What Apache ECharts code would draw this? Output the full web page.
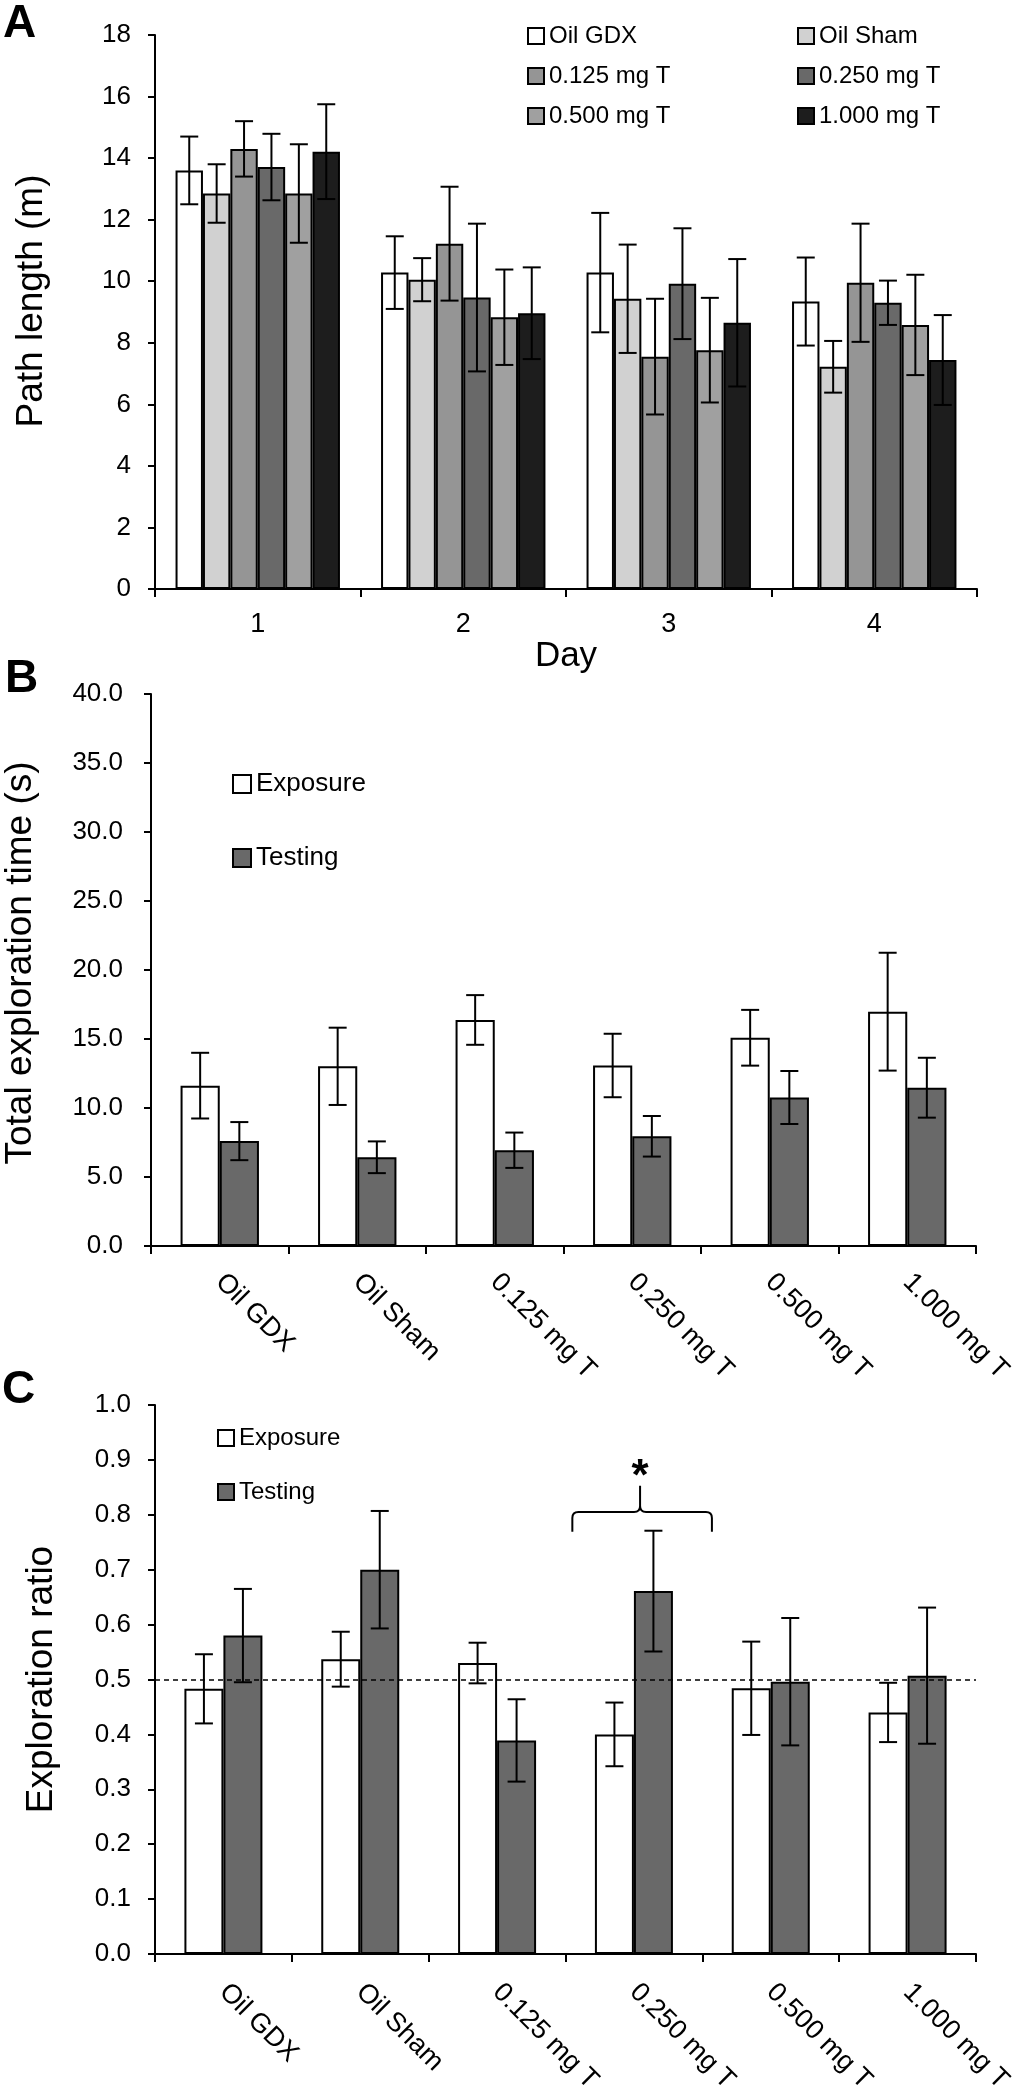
<!DOCTYPE html>
<html>
<head>
<meta charset="utf-8">
<title>Path length and object exploration</title>
<script src="https://cdn.jsdelivr.net/npm/echarts@6/dist/echarts.min.js"></script>
<style>
  html, body { margin: 0; padding: 0; background: #fff; }
  #chart { width: 1026px; height: 2100px; }
</style>
</head>
<body>
<div id="chart"></div>
<script>
// ---- panel A: path length (m) per day ----
const days = ['1', '2', '3', '4']
const groupNames = ['Oil GDX', 'Oil Sham', '0.125 mg T', '0.250 mg T', '0.500 mg T', '1.000 mg T']
const pathOilGdx = [13.6, 10.28, 10.28, 9.34]
const pathOilGdxErr = [1.1, 1.18, 1.94, 1.43]
const pathOilSham = [12.85, 10.05, 9.43, 7.22]
const pathOilShamErr = [0.95, 0.7, 1.76, 0.84]
const pathT0125 = [14.3, 11.22, 7.55, 9.95]
const pathT0125Err = [0.9, 1.85, 1.88, 1.92]
const pathT0250 = [13.71, 9.47, 9.92, 9.3]
const pathT0250Err = [1.08, 2.4, 1.8, 0.72]
const pathT0500 = [12.85, 8.83, 7.76, 8.58]
const pathT0500Err = [1.6, 1.55, 1.7, 1.63]
const pathT1000 = [14.21, 8.96, 8.65, 7.44]
const pathT1000Err = [1.54, 1.49, 2.07, 1.46]

// ---- panels B and C: per treatment group ----
const treatments = ['Oil GDX', 'Oil Sham', '0.125 mg T', '0.250 mg T', '0.500 mg T', '1.000 mg T']
const timeExposure = [11.62, 13.02, 16.38, 13.08, 15.09, 16.98]
const timeExposureErr = [2.38, 2.8, 1.8, 2.3, 2.02, 4.27]
const timeTesting = [7.6, 6.43, 6.94, 7.95, 10.76, 11.47]
const timeTestingErr = [1.38, 1.15, 1.28, 1.47, 1.92, 2.17]

const ratioExposure = [0.483, 0.537, 0.53, 0.4, 0.484, 0.44]
const ratioExposureErr = [0.063, 0.05, 0.037, 0.058, 0.085, 0.054]
const ratioTesting = [0.58, 0.7, 0.389, 0.661, 0.496, 0.507]
const ratioTestingErr = [0.085, 0.107, 0.075, 0.11, 0.116, 0.124]

const chanceLevel = 0.5
// significance bracket over 0.250 mg T: [end, bar, tip] levels and star
const sigCategory = 3
const sigBrace = [0.769, 0.805, 0.853]
const sigStar = 0.868

const FONT = "'Liberation Sans', Arial, sans-serif"
const groupColors = ['#ffffff', '#d1d1d1', '#959595', '#696969', '#a0a0a0', '#1d1d1d']
const exposureColor = '#ffffff'
const testingColor = '#696969'

function errorBars(axis, nBars, idx, gap, means, errs) {
  return {
    type: 'custom',
    xAxisIndex: axis,
    yAxisIndex: axis,
    z: 5,
    silent: true,
    data: means.map((m, i) => [i, m, errs[i]]),
    encode: { x: 0, y: 1 },
    renderItem(params, api) {
      const i = api.value(0)
      const m = api.value(1)
      const e = api.value(2)
      const band = api.size([1, 0])[0]
      const used = band * (1 - gap)
      const bw = used / nBars
      const hi = api.coord([i, m + e])
      const lo = api.coord([i, m - e])
      const cx = hi[0] - used / 2 + bw * (idx + 0.5)
      const cap = 9
      const style = { stroke: '#000', lineWidth: 2 }
      return {
        type: 'group',
        children: [
          { type: 'line', shape: { x1: cx, y1: hi[1], x2: cx, y2: lo[1] }, style },
          { type: 'line', shape: { x1: cx - cap, y1: hi[1], x2: cx + cap, y2: hi[1] }, style },
          { type: 'line', shape: { x1: cx - cap, y1: lo[1], x2: cx + cap, y2: lo[1] }, style }
        ]
      }
    }
  }
}

function bar(axis, name, data, color, gap) {
  return {
    type: 'bar',
    name: name,
    xAxisIndex: axis,
    yAxisIndex: axis,
    data: data,
    barGap: '0%',
    barCategoryGap: gap,
    itemStyle: { color: color, borderColor: '#000', borderWidth: 2 }
  }
}

const axisLineStyle = { show: true, lineStyle: { color: '#000', width: 2 } }
const tickStyle = { show: true, length: 8, lineStyle: { color: '#000', width: 2 } }

function catAxis(grid, data, extra) {
  return Object.assign({
    type: 'category',
    gridIndex: grid,
    data: data,
    axisLine: axisLineStyle,
    axisTick: tickStyle,
    axisLabel: { color: '#000', fontSize: 27, fontFamily: FONT, interval: 0 }
  }, extra)
}

function valAxis(grid, min, max, interval, name, gap, lift, labelFmt, labelMargin) {
  return {
    type: 'value',
    gridIndex: grid,
    min: min,
    max: max,
    interval: interval,
    splitLine: { show: false },
    axisLine: axisLineStyle,
    axisTick: { show: true, length: 7, lineStyle: { color: '#000', width: 2 } },
    axisLabel: { color: '#000', fontSize: 26, fontFamily: FONT, margin: labelMargin, formatter: labelFmt },
    name: name,
    nameLocation: 'middle',
    nameRotate: 90,
    nameGap: gap,
    nameMoveOverlap: false,
    nameTextStyle: { color: '#000', fontSize: 37, fontFamily: FONT, padding: [0, 0, 0, lift] }
  }
}

function legend(names, left, top, gap, size, font) {
  return {
    data: names,
    orient: 'vertical',
    left: left,
    top: top,
    padding: 0,
    itemGap: gap,
    itemWidth: size,
    itemHeight: size,
    icon: 'rect',
    selectedMode: false,
    itemStyle: { borderColor: '#000', borderWidth: 2 },
    textStyle: { color: '#000', fontSize: font, fontFamily: FONT, lineHeight: font }
  }
}

const pathSeries = [pathOilGdx, pathOilSham, pathT0125, pathT0250, pathT0500, pathT1000]
const pathErrs = [pathOilGdxErr, pathOilShamErr, pathT0125Err, pathT0250Err, pathT0500Err, pathT1000Err]

const series = []
groupNames.forEach((g, k) => {
  series.push(bar(0, g, pathSeries[k], groupColors[k], '20%'))
})
groupNames.forEach((g, k) => {
  series.push(errorBars(0, 6, k, 0.2, pathSeries[k], pathErrs[k]))
})

series.push(bar(1, 'Exposure', timeExposure, exposureColor, '43%'))
series.push(bar(1, 'Testing', timeTesting, testingColor, '43%'))
series.push(errorBars(1, 2, 0, 0.43, timeExposure, timeExposureErr))
series.push(errorBars(1, 2, 1, 0.43, timeTesting, timeTestingErr))

const ratioExpBar = bar(2, 'Exposure', ratioExposure, exposureColor, '43%')
ratioExpBar.markLine = {
  silent: true,
  symbol: ['none', 'none'],
  label: { show: false },
  lineStyle: { color: '#000', type: [5, 4], width: 1.5 },
  data: [{ yAxis: chanceLevel }]
}
series.push(ratioExpBar)
series.push(bar(2, 'Testing', ratioTesting, testingColor, '43%'))
series.push(errorBars(2, 2, 0, 0.43, ratioExposure, ratioExposureErr))
series.push(errorBars(2, 2, 1, 0.43, ratioTesting, ratioTestingErr))

// bracket and star
series.push({
  type: 'custom',
  xAxisIndex: 2,
  yAxisIndex: 2,
  z: 6,
  silent: true,
  data: [[sigCategory, sigBrace[0], sigBrace[1], sigBrace[2], sigStar]],
  encode: { x: 0, y: 2 },
  renderItem(params, api) {
    const band = api.size([1, 0])[0]
    const c = api.coord([api.value(0), api.value(2)])
    const yEnd = api.coord([api.value(0), api.value(1)])[1]
    const yBar = c[1]
    const yTip = api.coord([api.value(0), api.value(3)])[1]
    const yStar = api.coord([api.value(0), api.value(4)])[1]
    const xL = c[0] - 0.45 * band
    const xR = c[0] + 0.57 * band
    const xm = c[0] + 0.045 * band
    const r = 6
    const d = 'M' + xL + ',' + yEnd + ' L' + xL + ',' + (yBar + r) +
      ' Q' + xL + ',' + yBar + ' ' + (xL + r) + ',' + yBar +
      ' L' + (xm - r) + ',' + yBar +
      ' Q' + xm + ',' + yBar + ' ' + xm + ',' + (yBar - r) +
      ' L' + xm + ',' + yTip +
      ' M' + xm + ',' + (yBar - r) +
      ' Q' + xm + ',' + yBar + ' ' + (xm + r) + ',' + yBar +
      ' L' + (xR - r) + ',' + yBar +
      ' Q' + xR + ',' + yBar + ' ' + xR + ',' + (yBar + r) +
      ' L' + xR + ',' + yEnd
    return {
      type: 'group',
      children: [
        { type: 'path', shape: { pathData: d }, style: { stroke: '#000', lineWidth: 2, fill: null } },
        {
          type: 'text',
          x: xm,
          y: yStar,
          style: { text: '*', fontSize: 44, fontWeight: 'bold', fontFamily: FONT, fill: '#000', align: 'center', verticalAlign: 'middle' }
        }
      ]
    }
  }
})

const panelTitle = (t, left, top) => ({
  text: t,
  left: left,
  top: top,
  padding: 0,
  textStyle: { fontSize: 46, fontWeight: 'bold', fontFamily: FONT, color: '#000' }
})

const option = {
  animation: false,
  backgroundColor: '#fff',
  title: [panelTitle('A', 3, 1), panelTitle('B', 5, 656), panelTitle('C', 2, 1367)],
  legend: [
    legend(groupNames.filter((g, k) => k % 2 === 0), 527, 24, 16, 16, 24),
    legend(groupNames.filter((g, k) => k % 2 === 1), 797, 24, 16, 16, 24),
    legend(['Exposure', 'Testing'], 232, 771, 48, 18, 26),
    legend(['Exposure', 'Testing'], 217, 1426, 30, 16, 24)
  ],
  grid: [
    { left: 155, top: 35, width: 822, height: 554, containLabel: false, outerBoundsMode: 'none' },
    { left: 151, top: 694, width: 825, height: 552, containLabel: false, outerBoundsMode: 'none' },
    { left: 155, top: 1405, width: 821, height: 549, containLabel: false, outerBoundsMode: 'none' }
  ],
  xAxis: [
    catAxis(0, days, {
      axisLabel: { color: '#000', fontSize: 27, fontFamily: FONT, interval: 0, margin: 22 },
      name: 'Day',
      nameLocation: 'middle',
      nameGap: 50,
      nameMoveOverlap: false,
      nameTextStyle: { color: '#000', fontSize: 35, fontFamily: FONT }
    }),
    catAxis(1, treatments, {
      axisLabel: { color: '#000', fontSize: 27, fontFamily: FONT, interval: 0, rotate: -45, margin: 32 }
    }),
    catAxis(2, treatments, {
      axisLabel: { color: '#000', fontSize: 27, fontFamily: FONT, interval: 0, rotate: -45, margin: 34 }
    })
  ],
  yAxis: [
    valAxis(0, 0, 18, 2, 'Path length (m)', 105, 22, v => String(v), 24),
    valAxis(1, 0, 40, 5, 'Total exploration time (s)', 112, 14, v => v.toFixed(1), 28),
    valAxis(2, 0, 1, 0.1, 'Exploration ratio', 95, 0, v => v.toFixed(1), 24)
  ],
  series: series
}

const chart = echarts.init(document.getElementById('chart'), null, { renderer: 'canvas' })
chart.setOption(option)
</script>
</body>
</html>
